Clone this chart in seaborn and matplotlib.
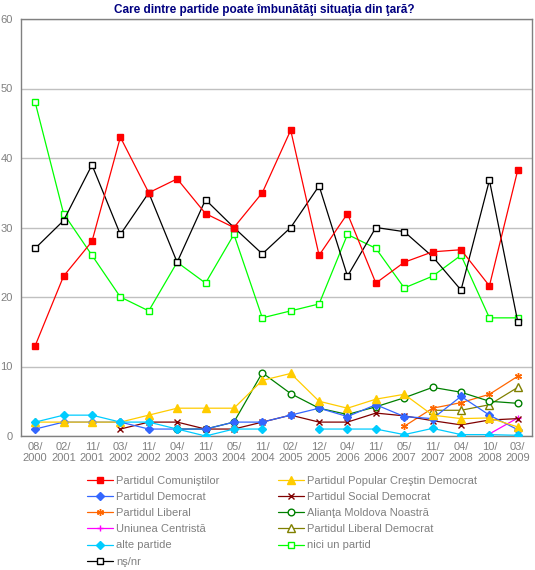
import numpy as np
import pandas as pd
import matplotlib
matplotlib.use("Agg")
import matplotlib.pyplot as plt
import seaborn as sns

# --------------------------
# DATA
# --------------------------
periods = ["08/\n2000", "02/\n2001", "11/\n2001", "03/\n2002", "11/\n2002", "04/\n2003",
           "11/\n2003", "05/\n2004", "11/\n2004", "02/\n2005", "12/\n2005", "04/\n2006",
           "11/\n2006", "05/\n2007", "11/\n2007", "04/\n2008", "10/\n2008", "03/\n2009"]
nan = np.nan

pcrm = [13, 23, 28, 43, 35, 37, 32, 30, 35, 44, 26, 32, 22, 25, 26.5, 26.8, 21.6, 38.3]
ppcd = [2, 2, 2, 2, 3, 4, 4, 4, 8, 9, 5, 4, 5.3, 6, 3, 2.5, 2.6, 1.3]
pd_ = [1, 2, 2, 2, 1, 1, 1, 2, 2, 3, 4, 2.8, 4.5, 2.8, 2.5, 5.7, 3, 0.9]
psd = [nan, nan, nan, 1, 2, 2, 1, 1, 2, 3, 2, 2, 3.3, 2.9, 2.2, 1.6, 2.3, 2.5]
pl = [nan] * 13 + [1.4, 4, 4.8, 6, 8.6]
amn = [nan] * 5 + [1, 1, 2, 9.1, 6.1, 4, 3.1, 4.2, 5.5, 7, 6.3, 5, 4.7]
uc = [nan] * 16 + [0.3, 2.6]
pld = [nan] * 14 + [3.7, 3.7, 4.5, 7]
alte = [2, 3, 3, 2, 2, 1, 0, 1, 1, nan, 1, 1, 1, 0.2, 1.1, 0.2, 0.2, 0.1]
nici = [48, 32, 26, 20, 18, 25, 22, 29, 17, 18, 19, 29, 27, 21.3, 23, 26, 17, 17]
nsnr = [27, 31, 39, 29, 35, 25, 34, 30, 26.2, 30, 36, 23, 30, 29.4, 25.8, 21, 36.8, 16.4]

# name, values, color, marker, size, filled
series = [
    ("Partidul Comuniştilor", pcrm, "#FF0000", "s", 5, True),
    ("Partidul Democrat", pd_, "#3366FF", "D", 4.2, True),
    ("Partidul Liberal", pl, "#FF6600", (6, 2, 0), 5, True),
    ("Uniunea Centristă", uc, "#FF00FF", "+", 5, True),
    ("alte partide", alte, "#00CCFF", "D", 4.2, True),
    ("nş/nr", nsnr, "#000000", "s", 5, False),
    ("Partidul Popular Creştin Democrat", ppcd, "#FFCC00", "^", 5.5, True),
    ("Partidul Social Democrat", psd, "#800000", "x", 4.2, True),
    ("Alianţa Moldova Noastră", amn, "#008000", "o", 4.8, False),
    ("Partidul Liberal Democrat", pld, "#808000", "^", 5.5, False),
    ("nici un partid", nici, "#00FF00", "s", 5, False),
]
draw_order = ["Partidul Liberal Democrat", "Uniunea Centristă", "Partidul Liberal",
              "Alianţa Moldova Noastră", "Partidul Social Democrat", "Partidul Democrat",
              "Partidul Popular Creştin Democrat", "alte partide",
              "nici un partid", "nş/nr", "Partidul Comuniştilor"]

# --------------------------
# PLOT
# --------------------------
sns.set_style("white")
plt.rcParams["font.family"] = ["Liberation Sans", "DejaVu Sans"]
grey = "#808080"

fig = plt.figure(figsize=(5.35, 5.70), dpi=100)
ax = fig.add_axes([21 / 535, 1 - 436 / 570, (532 - 21) / 535, (436 - 19) / 570])

x = np.arange(len(periods))
handles = {}
for name, vals, col, mk, msize, filled in series:
    df = pd.DataFrame({"x": x, "y": vals})
    df["run"] = df["y"].isna().cumsum()
    df = df.dropna()
    z = 3 + draw_order.index(name)
    style = dict(color=col, lw=0.9, marker=mk, markersize=msize,
                 markerfacecolor=col if filled else "white",
                 markeredgecolor=col, markeredgewidth=1.0)
    for _, part in df.groupby("run"):
        sns.lineplot(data=part, x="x", y="y", ax=ax, zorder=z, legend=False, **style)
    handles[name] = plt.Line2D([], [], **style)

ax.set_xlim(-0.5, len(periods) - 0.5)
ax.set_ylim(0, 60)
ax.set_yticks(range(0, 61, 10))
ax.set_xticks(x)
ax.set_xticklabels(periods, fontsize=8, color=grey, linespacing=1.2)
ax.set_xticks(np.arange(-0.5, len(periods), 1), minor=True)
ax.tick_params(axis="x", which="major", length=0, pad=4)
ax.tick_params(axis="x", which="minor", length=4, color=grey, width=1, direction="out")
ax.tick_params(axis="y", length=4, color=grey, width=1, direction="out", pad=2,
               labelsize=8, labelcolor=grey)
ax.set_xlabel("")
ax.set_ylabel("")
ax.grid(axis="y", color="#C0C0C0", lw=1)
ax.set_axisbelow(True)
for s in ax.spines.values():
    s.set_color(grey)
    s.set_linewidth(1)

fig.text(264 / 535, 1 - 10 / 570, "Care dintre partide poate îmbunătăţi situaţia din ţară?",
         ha="center", va="center", fontsize=8.5, fontweight="bold", color="#000080")

names = [s[0] for s in series]
leg = fig.legend([handles[n] for n in names], names, loc="upper left",
                 bbox_to_anchor=(87 / 535, 1 - 476 / 570), ncol=2, frameon=False,
                 fontsize=8, handlelength=2.3, handletextpad=0.3, labelspacing=0.55,
                 columnspacing=5.3, borderpad=0, borderaxespad=0)
for t in leg.get_texts():
    t.set_color(grey)

fig.savefig("out.png", dpi=100)
